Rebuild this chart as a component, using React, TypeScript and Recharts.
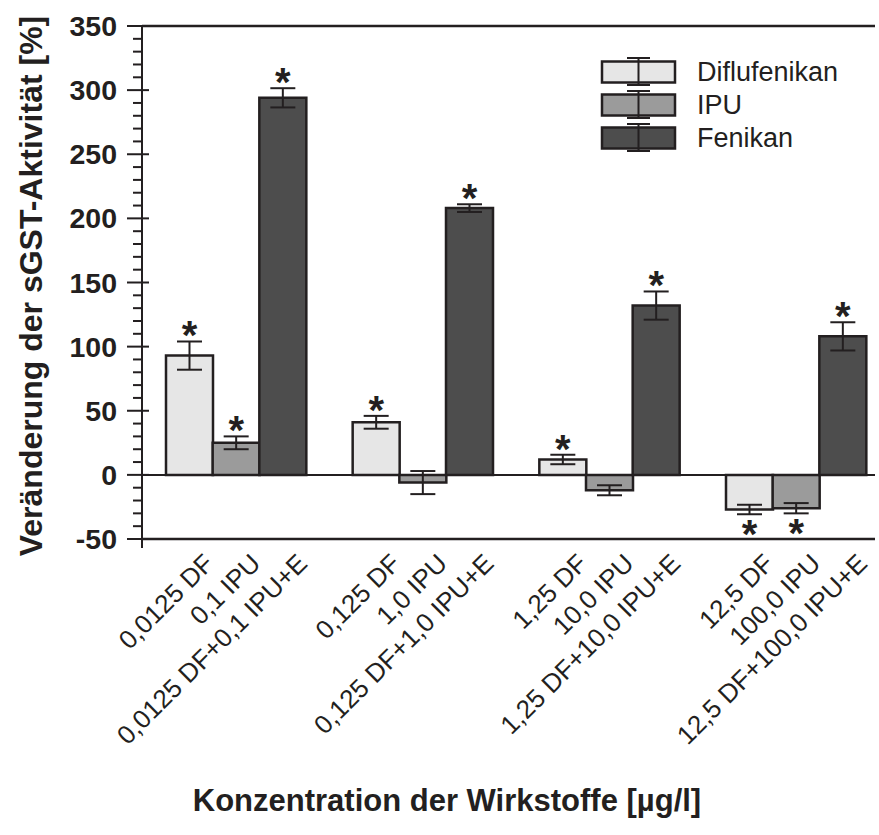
import React from 'react';
import { BarChart, Bar, XAxis, YAxis, Cell, ErrorBar, LabelList, ReferenceLine, Legend, Label } from 'recharts';

const categories = [
  '0,0125 DF', '0,1 IPU', '0,0125 DF+0,1 IPU+E',
  '0,125 DF', '1,0 IPU', '0,125 DF+1,0 IPU+E',
  '1,25 DF', '10,0 IPU', '1,25 DF+10,0 IPU+E',
  '12,5 DF', '100,0 IPU', '12,5 DF+100,0 IPU+E',
];
const values = [93, 25, 294, 41, -6, 208, 12, -12, 132, -27, -26, 108];
const errors = [11, 5, 7.5, 5, 9, 3, 3.7, 3.9, 11, 3.7, 4, 11];
const significant = [true, true, true, true, false, true, true, false, true, true, true, true];
const seriesNames = ['Diflufenikan', 'IPU', 'Fenikan'];
const seriesColors = ['#e6e6e6', '#9b9b9b', '#4d4d4d'];
const majorTicks = [-50, 0, 50, 100, 150, 200, 250, 300, 350];
const minorSteps = [10, 20, 30, 40];

const INK = '#231f20';
const FONT = '"Liberation Sans", Arial, Helvetica, sans-serif';

type Row = { label: string; value: number | null; err: number | null; sig: boolean; series: number; idx: number };
const rows: Row[] = [];
categories.forEach((c, i) => {
  if (i > 0 && i % 3 === 0) rows.push({ label: '', value: null, err: null, sig: false, series: -1, idx: -1 });
  rows.push({ label: c, value: values[i], err: errors[i], sig: significant[i], series: i % 3, idx: i });
});

const yTicks: number[] = [];
majorTicks.forEach((t) => {
  yTicks.push(t);
  if (t < 350) minorSteps.forEach((s) => yTicks.push(t + s));
});

const YTick = (props: any) => {
  const { x, y, payload } = props;
  const v = payload.value;
  const major = v % 50 === 0;
  return (
    <g>
      <line x1={major ? x - 15 : x - 9} x2={major ? x + 7 : x} y1={y} y2={y} stroke={INK} strokeWidth={2} />
      {major && (
        <text x={x - 25} y={y} dy={10} textAnchor="end" fontSize={28.5} fontWeight="bold" fill={INK} fontFamily={FONT}>
          {v}
        </text>
      )}
      {v === -50 && <line x1={x} x2={x} y1={y} y2={y + 9} stroke={INK} strokeWidth={2} />}
    </g>
  );
};

const XTick = (props: any) => {
  const { x, y, payload } = props;
  if (!payload.value) return null;
  const tx = x + 26;
  const ty = y + 26;
  return (
    <text x={tx} y={ty} transform={`rotate(-45, ${tx}, ${ty})`} textAnchor="end" fontSize={26} fill={INK} fontFamily={FONT}>
      {payload.value}
    </text>
  );
};

const StarLabel = (props: any) => {
  const vb = props.viewBox || {};
  const x = props.x ?? vb.x;
  const y = props.y ?? vb.y;
  const width = props.width ?? vb.width;
  const height = props.height ?? vb.height;
  const idx = props.value;
  if (idx === undefined || idx === null || idx < 0) return null;
  if (!significant[idx]) return null;
  const v = values[idx];
  const err = errors[idx];
  const top = Math.min(y, y + height);
  const bottom = Math.max(y, y + height);
  const scale = Math.abs(height) / Math.abs(v);
  const cx = x + width / 2;
  const ey = v >= 0 ? top - err * scale + 8 : bottom + err * scale + 34;
  return (
    <text x={cx} y={ey} textAnchor="middle" fontSize={40} fontWeight="bold" fill={INK} fontFamily={FONT}>
      *
    </text>
  );
};

const LegendBox = () => (
  <svg width={270} height={110} style={{ display: 'block' }}>
    {seriesNames.map((n, i) => {
      const cy = 22 + i * 33;
      return (
        <g key={n}>
          <rect x={2} y={cy - 10.5} width={73} height={21} fill={seriesColors[i]} stroke={INK} strokeWidth={2.5} />
          <line x1={38.5} x2={38.5} y1={cy - 14} y2={cy + 13} stroke={INK} strokeWidth={2} />
          <line x1={27} x2={50} y1={cy - 14} y2={cy - 14} stroke={INK} strokeWidth={2} />
          <line x1={27} x2={50} y1={cy + 13} y2={cy + 13} stroke={INK} strokeWidth={2} />
          <text x={97} y={cy + 9} fontSize={27} fill={INK} fontFamily={FONT}>
            {n}
          </text>
        </g>
      );
    })}
  </svg>
);

export default function App() {
  return (
    <div style={{ position: 'absolute', left: 0, top: 0, width: 879, height: 835, background: '#fff', fontFamily: FONT }}>
      <BarChart
        width={879}
        height={835}
        data={rows}
        margin={{ top: 26, right: 4, bottom: 0, left: 0 }}
        barCategoryGap={0}
        barGap={0}
      >
        <XAxis
          dataKey="label"
          interval={0}
          tick={<XTick />}
          tickLine={false}
          tickSize={0}
          tickMargin={0}
          height={296}
          padding={{ left: 24, right: 9 }}
          axisLine={{ stroke: INK, strokeWidth: 2.5 }}
        >
          <Label
            content={() => (
              <text x={447} y={811} textAnchor="middle" fontSize={31} fontWeight="bold" fill={INK} fontFamily={FONT}>
                Konzentration der Wirkstoffe [µg/l]
              </text>
            )}
          />
        </XAxis>
        <YAxis
          type="number"
          domain={[-50, 350]}
          ticks={yTicks}
          interval={0}
          allowDataOverflow
          width={142}
          tick={<YTick />}
          tickLine={false}
          tickSize={0}
          tickMargin={0}
          axisLine={{ stroke: INK, strokeWidth: 2 }}
        >
          <Label
            content={() => (
              <text
                x={31}
                y={286}
                transform="rotate(-90, 31, 286)"
                textAnchor="middle"
                dominantBaseline="central"
                fontSize={32}
                fontWeight="bold"
                fill={INK}
                fontFamily={FONT}
              >
                Veränderung der sGST-Aktivität [%]
              </text>
            )}
          />
        </YAxis>
        <ReferenceLine y={350} stroke={INK} strokeWidth={2.5} />
        <ReferenceLine y={0} stroke={INK} strokeWidth={2} />
        <Legend
          layout="horizontal"
          verticalAlign="middle"
          align="center"
          content={<LegendBox />}
          wrapperStyle={{ left: 600, top: 50, width: 270, height: 110 }}
        />
        <Bar dataKey="value" isAnimationActive={false} stroke={INK} strokeWidth={2.5}>
          {rows.map((r, i) => (
            <Cell key={i} fill={r.series >= 0 ? seriesColors[r.series] : 'none'} />
          ))}
          <ErrorBar dataKey="err" width={12.5} strokeWidth={2} stroke={INK} direction="y" />
          <LabelList dataKey="idx" content={<StarLabel />} />
        </Bar>
      </BarChart>
    </div>
  );
}
